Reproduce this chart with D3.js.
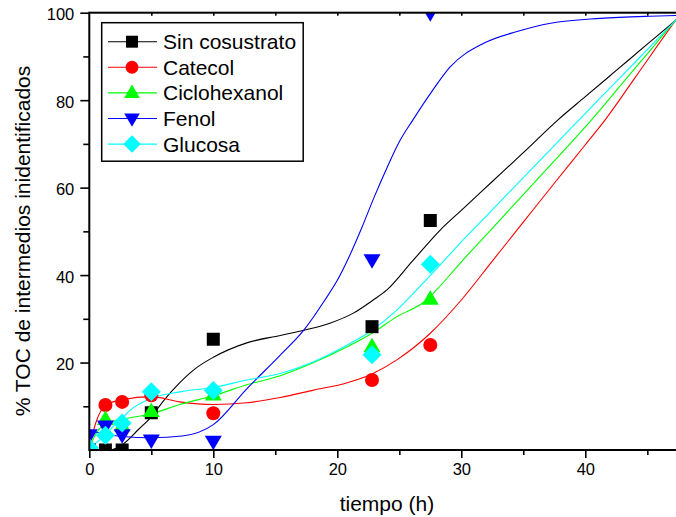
<!DOCTYPE html>
<html>
<head>
<meta charset="utf-8">
<script src="https://cdn.jsdelivr.net/npm/d3@7"></script>
<style>
  html, body { margin: 0; padding: 0; background: #fff; }
  svg { display: block; font-family: Arial, "Liberation Sans", sans-serif; }
</style>
</head>
<body>
<svg id="chart" width="676" height="517"></svg>
<script>
// Measured times (h) and % TOC of unidentified intermediates per co-substrate
const times = [0, 1.3, 2.65, 5, 10, 22.8, 27.5];
const sinCosustrato = [0, 0, 0, 8.5, 25.3, 28.2, 52.5];
const catecol       = [0.3, 10.3, 11, 12.5, 8.4, 16, 24];
const ciclohexanol  = [0.5, 7, 5.5, 8.8, 12.6, 23.6, 34.5];
const fenol         = [3.5, 5.5, 3.5, 2.3, 2, 43.5, 100];
const glucosa       = [0.5, 3.4, 6.2, 13.3, 13.6, 21.8, 42.5];

// Fitted trend curves (time, value) for each series
const fitSinT = [0, 1.3, 2.65, 4, 5, 6, 7.3, 8.5, 10, 12.7, 15.4, 17.3, 19.4, 21.3, 22.9, 24, 26, 28.3, 30, 32.5, 35, 37.8, 40, 42.5, 45, 47.3, 48];
const fitSinV = [-0.5, -0.3, 1.2, 4.8, 7.6, 11.3, 15.4, 18.5, 21.2, 24.5, 26.2, 27.4, 29, 31.3, 34.3, 36.6, 43, 50.3, 54.8, 61.4, 68, 75.5, 80.8, 86.8, 92.8, 98.3, 100];
const fitCatT = [0, 0.5, 1.3, 2.65, 5, 7.3, 10, 12.7, 15.4, 18.1, 20.8, 22.8, 24.8, 27.5, 30, 32.5, 35, 37.5, 40, 41.6, 44, 47.3, 48];
const fitCatV = [0.5, 6, 10.2, 11.5, 12.2, 11, 10.4, 10.8, 12, 13.7, 15.4, 17.4, 20.6, 26.7, 34.3, 43.2, 52.1, 61, 69.8, 75.5, 85.1, 98.3, 101];
const fitCicT = [0, 0.6, 1.3, 2.65, 5, 7.3, 10, 12.7, 15.4, 18.1, 20.8, 22.8, 24.8, 27.2, 28, 29.9, 32.5, 35, 37.5, 40.5, 43, 45, 47.3, 48];
const fitCicV = [0.5, 4, 6, 7, 8.3, 10.4, 12.4, 14.9, 17, 20, 23.6, 26.7, 30.5, 34.3, 36.6, 42.7, 50.7, 58.4, 66.1, 75.5, 83.9, 90.6, 98.3, 100.5];
const fitFenT = [0, 1.3, 2.65, 5, 7.5, 10, 12.7, 15.4, 17.3, 19, 20, 21, 22, 23, 24, 25, 26.1, 27.7, 29.1, 31.8, 34.5, 37.2, 41.2, 45.2, 48];
const fitFenV = [4.5, 3.6, 3.1, 2.8, 3.2, 5.8, 14, 21.7, 27.4, 34.3, 38.8, 44.5, 51, 58, 64.5, 70.5, 75.5, 82.3, 87.6, 93, 95.7, 97.6, 98.7, 99.2, 99.4];
const fitGluT = [0, 1.3, 1.9, 2.65, 3.3, 5, 7.3, 10, 12.7, 15.4, 18.1, 20.8, 22.8, 24.8, 26.4, 28, 29.9, 32.5, 35, 37.5, 39.5, 42, 44.5, 47.3, 48];
const fitGluV = [0.3, 3.5, 5.3, 7.3, 9.1, 11.8, 13.3, 14.3, 16, 17.5, 20.2, 24, 27.4, 32, 36.6, 41.4, 47.3, 54.9, 62.3, 69.6, 75.5, 82.8, 90.1, 98.3, 100.3];

const seriesNames = ["Sin cosustrato", "Catecol", "Ciclohexanol", "Fenol", "Glucosa"];
const xTicks = [0, 10, 20, 30, 40];
const yTicks = [20, 40, 60, 80, 100];

const series = [
  { name: seriesNames[0], values: sinCosustrato, fitT: fitSinT, fitV: fitSinV, color: "#000000", shape: "square" },
  { name: seriesNames[1], values: catecol,       fitT: fitCatT, fitV: fitCatV, color: "#ff0000", shape: "circle" },
  { name: seriesNames[2], values: ciclohexanol,  fitT: fitCicT, fitV: fitCicV, color: "#00ff00", shape: "up" },
  { name: seriesNames[3], values: fenol,         fitT: fitFenT, fitV: fitFenV, color: "#0000ff", shape: "down" },
  { name: seriesNames[4], values: glucosa,       fitT: fitGluT, fitV: fitGluV, color: "#00ffff", shape: "diamond" }
];

const svg = d3.select("#chart");
const plot = { left: 89.3, right: 684.5, top: 12.7, bottom: 450 };

const x = d3.scaleLinear().domain([0, 48]).range([plot.left, plot.right]);
const y = d3.scaleLinear().domain([0, 100]).range([plot.bottom, plot.top]);

svg.append("defs").append("clipPath").attr("id", "plotClip")
  .append("rect")
  .attr("x", plot.left).attr("y", plot.top)
  .attr("width", plot.right - plot.left).attr("height", plot.bottom - plot.top);

// Marker paths centred on (0,0)
function markerPath(shape) {
  switch (shape) {
    case "square": return "M-6.5,-6.5H6.5V6.5H-6.5Z";
    case "circle": return "M7,0A7,7 0 1,1 -7,0A7,7 0 1,1 7,0Z";
    case "up": return "M0,-9L8.5,5.5L-8.5,5.5Z";
    case "down": return "M0,9L8.5,-5.5L-8.5,-5.5Z";
    case "diamond": return "M0,-9.5L9.5,0L0,9.5L-9.5,0Z";
  }
}

const clipped = svg.append("g").attr("clip-path", "url(#plotClip)");

const line = d3.line()
  .x(d => x(d[0]))
  .y(d => y(d[1]))
  .curve(d3.curveMonotoneX);

// Fitted curves
series.forEach(s => {
  clipped.append("path")
    .datum(d3.zip(s.fitT, s.fitV))
    .attr("fill", "none")
    .attr("stroke", s.color)
    .attr("stroke-width", 1.1)
    .attr("d", line);
});

// Data markers
series.forEach(s => {
  clipped.append("g").selectAll("path")
    .data(d3.zip(times, s.values))
    .join("path")
    .attr("d", markerPath(s.shape))
    .attr("transform", d => `translate(${x(d[0])},${y(d[1])})`)
    .attr("fill", s.color);
});

// Axes
const axisColor = "#000";
const bottomAxis = svg.append("g").attr("transform", `translate(0,${plot.bottom})`)
  .call(d3.axisBottom(x).tickValues(xTicks).tickSize(8).tickPadding(5).tickFormat(d3.format("d")));
const bottomMinor = svg.append("g").attr("transform", `translate(0,${plot.bottom})`)
  .call(d3.axisBottom(x).tickValues([5, 15, 25, 35, 45]).tickSize(5).tickFormat(""));
const leftAxis = svg.append("g").attr("transform", `translate(${plot.left},0)`)
  .call(d3.axisLeft(y).tickValues(yTicks).tickSize(9).tickPadding(6).tickFormat(d3.format("d")));
const leftMinor = svg.append("g").attr("transform", `translate(${plot.left},0)`)
  .call(d3.axisLeft(y).tickValues([10, 30, 50, 70, 90]).tickSize(6).tickFormat(""));
const topTicks = svg.append("g").attr("transform", `translate(0,${plot.top})`)
  .call(d3.axisTop(x).tickValues([5, 10, 15, 20, 25, 30, 35, 40, 45]).tickSize(-3).tickFormat(""));

[bottomAxis, bottomMinor, leftAxis, leftMinor, topTicks].forEach(g => {
  g.select(".domain").remove();
  g.selectAll(".tick line").attr("stroke", axisColor).attr("stroke-width", 1.6);
  g.selectAll(".tick text").attr("fill", "#000").style("font-size", "16.5px")
    .style("font-family", "Arial, 'Liberation Sans', sans-serif");
});
leftAxis.selectAll(".tick text").attr("dy", "0.42em");

// Frame
svg.append("rect")
  .attr("x", plot.left).attr("y", plot.top)
  .attr("width", plot.right - plot.left).attr("height", plot.bottom - plot.top)
  .attr("fill", "none").attr("stroke", "#000").attr("stroke-width", 2);

// Axis titles
svg.append("text")
  .attr("x", (plot.left + plot.right) / 2).attr("y", 511)
  .attr("text-anchor", "middle").style("font-size", "21px")
  .text("tiempo (h)");
svg.append("text")
  .attr("transform", `translate(29.5,241) rotate(-90)`)
  .attr("text-anchor", "middle").style("font-size", "21px")
  .text("% TOC de intermedios inidentificados");

// Legend
const legend = svg.append("g");
legend.append("rect")
  .attr("x", 101.7).attr("y", 22.7).attr("width", 201.5).attr("height", 138.5)
  .attr("fill", "#fff").attr("stroke", "#000").attr("stroke-width", 1.5);
series.forEach((s, i) => {
  const ly = 41.7 + i * 25.6;
  const g = legend.append("g");
  g.append("line").attr("x1", 108).attr("x2", 157).attr("y1", ly).attr("y2", ly)
    .attr("stroke", s.color).attr("stroke-width", 1.1);
  g.append("path").attr("d", markerPath(s.shape))
    .attr("transform", `translate(132,${ly}) scale(0.92)`).attr("fill", s.color);
  g.append("text").attr("x", 163).attr("y", ly).attr("dy", "0.36em")
    .style("font-size", "21px").text(s.name);
});
</script>
</body>
</html>
